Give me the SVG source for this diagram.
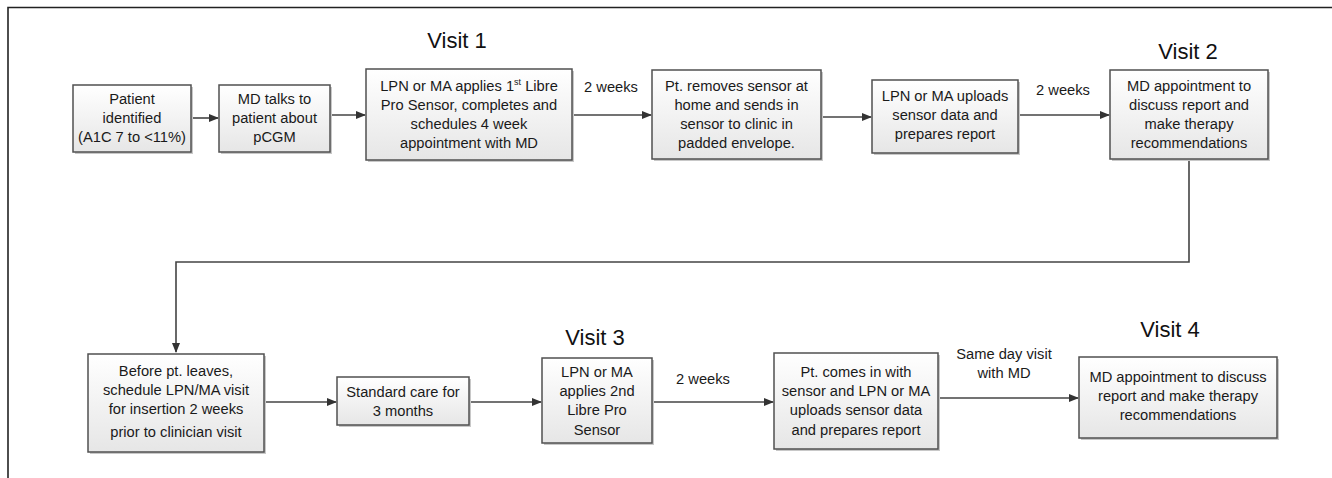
<svg xmlns="http://www.w3.org/2000/svg" width="1332" height="478" viewBox="0 0 1332 478">
<style>
.box{fill:url(#g);stroke:#505050;stroke-width:1.5}
.sh{fill:#c8c8c8}
.t{font-family:"Liberation Sans",Arial,sans-serif;font-size:14.7px;fill:#1a1a1a;text-anchor:middle}
.v{font-family:"Liberation Sans",Arial,sans-serif;font-size:22px;fill:#111;text-anchor:middle}
.c{fill:none;stroke:#444;stroke-width:1.6}
</style>
<defs>
<linearGradient id="g" x1="0" y1="0" x2="0" y2="1">
<stop offset="0" stop-color="#ffffff"/>
<stop offset="1" stop-color="#e6e6e6"/>
</linearGradient>
<marker id="a" markerWidth="10" markerHeight="10" refX="9" refY="5" orient="auto" markerUnits="userSpaceOnUse">
<path d="M0,1 L10,5 L0,9 Z" fill="#333"/>
</marker>
</defs>
<rect width="1332" height="478" fill="#fff"/>
<path d="M8,478 V7.5 H1332" fill="none" stroke="#222" stroke-width="1.6"/>
<g id="connectors">
<line class="c" x1="191" y1="118" x2="218" y2="118" marker-end="url(#a)"/>
<line class="c" x1="330" y1="115" x2="365" y2="115" marker-end="url(#a)"/>
<line class="c" x1="572" y1="115" x2="651" y2="115" marker-end="url(#a)"/>
<line class="c" x1="821" y1="117" x2="871" y2="117" marker-end="url(#a)"/>
<line class="c" x1="1018" y1="115" x2="1109" y2="115" marker-end="url(#a)"/>
<path class="c" d="M1189,159 V262 H176 V352" marker-end="url(#a)"/>
<line class="c" x1="264" y1="402" x2="336" y2="402" marker-end="url(#a)"/>
<line class="c" x1="469" y1="402" x2="541" y2="402" marker-end="url(#a)"/>
<line class="c" x1="652" y1="402" x2="773" y2="402" marker-end="url(#a)"/>
<line class="c" x1="938" y1="398" x2="1078" y2="398" marker-end="url(#a)"/>
<text class="t" x="611" y="92">2 weeks</text>
<text class="t" x="1063" y="95">2 weeks</text>
<text class="t" x="703" y="384">2 weeks</text>
<text class="t" x="1004" y="359">Same day visit</text>
<text class="t" x="1004" y="378">with MD</text>
</g>
<g id="visit-labels">
<text class="v" x="457" y="48">Visit 1</text>
<text class="v" x="1188" y="59">Visit 2</text>
<text class="v" x="595" y="345">Visit 3</text>
<text class="v" x="1170" y="337">Visit 4</text>
</g>
<g id="n1">
<rect class="sh" x="75" y="87" width="118" height="67"/>
<rect class="box" x="73" y="85" width="118" height="67"/>
<text class="t" x="132" y="104">Patient</text>
<text class="t" x="132" y="123">identified</text>
<text class="t" x="132" y="142">(A1C 7 to &lt;11%)</text>
</g>
<g id="n2">
<rect class="sh" x="221" y="87" width="111" height="67"/>
<rect class="box" x="219" y="85" width="111" height="67"/>
<text class="t" x="274.5" y="104">MD talks to</text>
<text class="t" x="274.5" y="123">patient about</text>
<text class="t" x="274.5" y="142">pCGM</text>
</g>
<g id="n3">
<rect class="sh" x="368" y="71" width="206" height="91"/>
<rect class="box" x="366" y="69" width="206" height="91"/>
<text class="t" x="469" y="91">LPN or MA applies 1<tspan font-size="9" dy="-6">st</tspan><tspan dy="6"> Libre</tspan></text>
<text class="t" x="469" y="110">Pro Sensor, completes and</text>
<text class="t" x="469" y="129">schedules 4 week</text>
<text class="t" x="469" y="148">appointment with MD</text>
</g>
<g id="n4">
<rect class="sh" x="654" y="72" width="169" height="89"/>
<rect class="box" x="652" y="70" width="169" height="89"/>
<text class="t" x="736.5" y="91">Pt. removes sensor at</text>
<text class="t" x="736.5" y="110">home and sends in</text>
<text class="t" x="736.5" y="129">sensor to clinic in</text>
<text class="t" x="736.5" y="148">padded envelope.</text>
</g>
<g id="n5">
<rect class="sh" x="874" y="82" width="146" height="73"/>
<rect class="box" x="872" y="80" width="146" height="73"/>
<text class="t" x="945" y="101">LPN or MA uploads</text>
<text class="t" x="945" y="120">sensor data and</text>
<text class="t" x="945" y="139">prepares report</text>
</g>
<g id="n6">
<rect class="sh" x="1112" y="72" width="158" height="89"/>
<rect class="box" x="1110" y="70" width="158" height="89"/>
<text class="t" x="1189" y="91">MD appointment to</text>
<text class="t" x="1189" y="110">discuss report and</text>
<text class="t" x="1189" y="129">make therapy</text>
<text class="t" x="1189" y="148">recommendations</text>
</g>
<g id="n7">
<rect class="sh" x="90" y="356" width="176" height="98"/>
<rect class="box" x="88" y="354" width="176" height="98"/>
<text class="t" x="176" y="376">Before pt. leaves,</text>
<text class="t" x="176" y="395">schedule LPN/MA visit</text>
<text class="t" x="176" y="414">for insertion 2 weeks</text>
<text class="t" x="176" y="437">prior to clinician visit</text>
</g>
<g id="n8">
<rect class="sh" x="339" y="379" width="132" height="48"/>
<rect class="box" x="337" y="377" width="132" height="48"/>
<text class="t" x="403" y="397">Standard care for</text>
<text class="t" x="403" y="416">3 months</text>
</g>
<g id="n9">
<rect class="sh" x="544" y="360" width="110" height="85"/>
<rect class="box" x="542" y="358" width="110" height="85"/>
<text class="t" x="597" y="377">LPN or MA</text>
<text class="t" x="597" y="396">applies 2nd</text>
<text class="t" x="597" y="415">Libre Pro</text>
<text class="t" x="597" y="435">Sensor</text>
</g>
<g id="n10">
<rect class="sh" x="776" y="355" width="164" height="96"/>
<rect class="box" x="774" y="353" width="164" height="96"/>
<text class="t" x="856" y="377">Pt. comes in with</text>
<text class="t" x="856" y="396">sensor and LPN or MA</text>
<text class="t" x="856" y="415">uploads sensor data</text>
<text class="t" x="856" y="435">and prepares report</text>
</g>
<g id="n11">
<rect class="sh" x="1081" y="359" width="198" height="81"/>
<rect class="box" x="1079" y="357" width="198" height="81"/>
<text class="t" x="1178" y="382">MD appointment to discuss</text>
<text class="t" x="1178" y="401">report and make therapy</text>
<text class="t" x="1178" y="420">recommendations</text>
</g>
</svg>
